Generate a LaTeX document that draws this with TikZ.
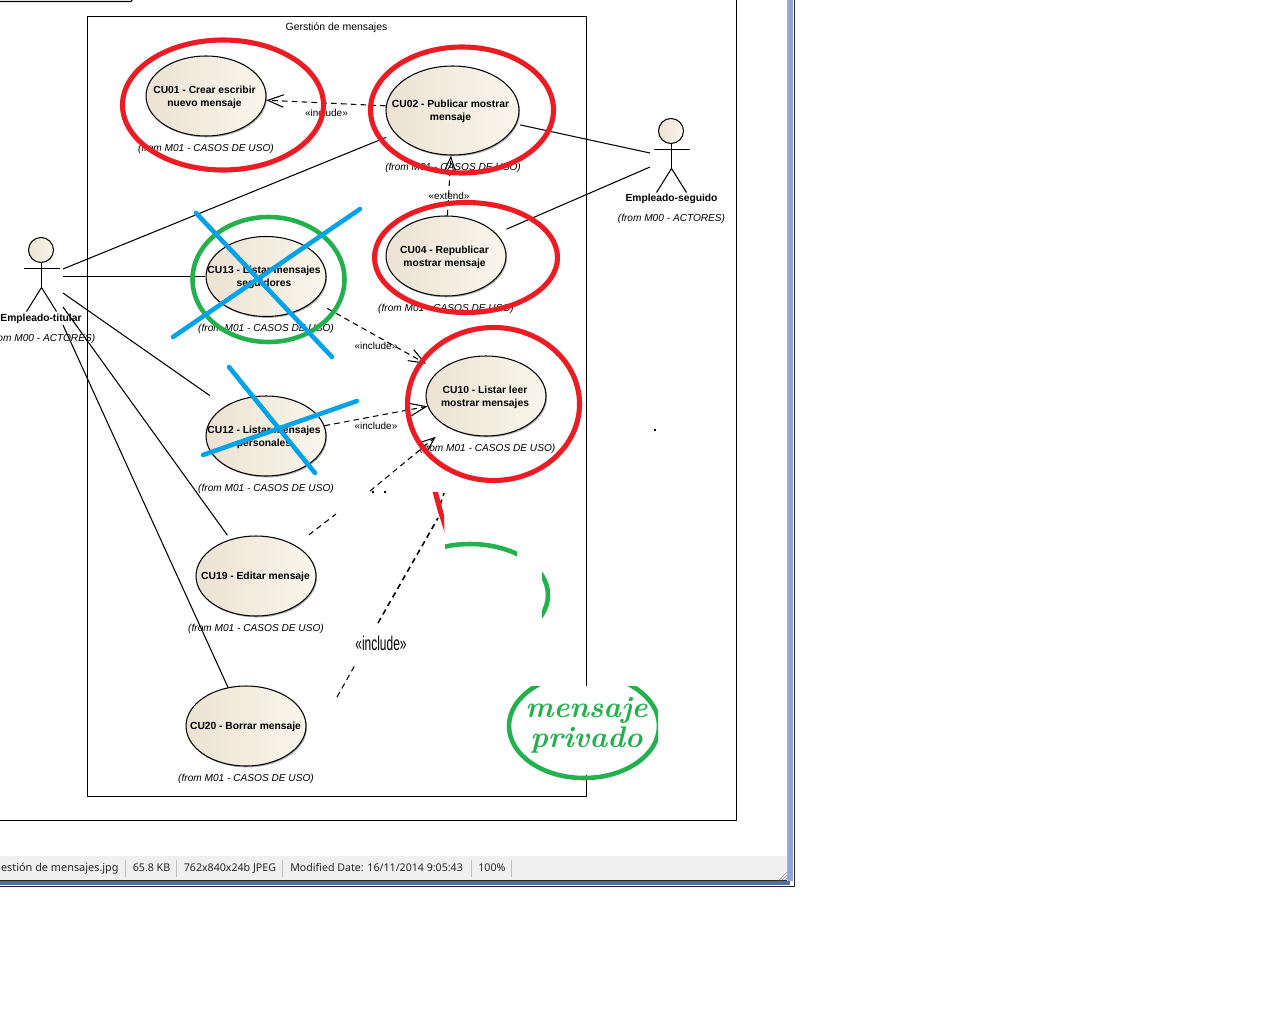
\documentclass[tikz,border=0pt]{standalone}
\usepackage{fontspec}
\setmainfont{Liberation Sans}
\newfontfamily\barfont{Noto Sans}
\newfontfamily\handfont{Latin Modern Roman}
\usetikzlibrary{arrows.meta,shapes.geometric,shadows}
\definecolor{markred}{HTML}{ED1C24}
\definecolor{markgreen}{HTML}{22B14C}
\definecolor{markblue}{HTML}{00A2E8}
\definecolor{ucleft}{HTML}{EBE2D3}
\definecolor{ucright}{HTML}{FBF6EC}
\definecolor{framefill}{HTML}{8FA6D2}
\definecolor{framedark}{HTML}{4F6FA8}
\tikzset{
  thinline/.style={line width=0.6pt},
  dashline/.style={thinline,dash pattern=on 3.2pt off 2.4pt},
  openhead/.style={-{Straight Barb[length=3.2mm,width=2.5mm,line width=0.6pt]}},
  usecase/.style={ellipse,draw,thinline,left color=ucleft,right color=ucright,minimum width=2.4cm,minimum height=1.6cm,inner sep=0pt,
    drop shadow={shadow xshift=0.6pt,shadow yshift=-0.8pt,fill=black,opacity=0.3}},
  ucname/.style={font=\fontsize{5.85}{7.37}\selectfont\bfseries,align=center,inner sep=0pt},
  fromlabel/.style={font=\fontsize{5.76}{7}\selectfont\itshape,inner sep=0pt},
  stereo/.style={font=\fontsize{5.67}{7}\selectfont,inner sep=0pt},
  barlabel/.style={font=\fontsize{6.05}{7}\selectfont\barfont,inner sep=0pt,text=black!85},
  actorhead/.style={circle,draw,thinline,left color=ucleft,right color=ucright,minimum size=0.5cm,inner sep=0pt},
  redring/.style={draw=markred,line width=2.9pt},
  greenring/.style={draw=markgreen,line width=2.6pt},
  bluecross/.style={draw=markblue,line width=2.6pt,line cap=round},
}
\begin{document}
\begin{tikzpicture}[x=0.02cm,y=-0.02cm]
  \useasboundingbox (0,0) rectangle (1280,1024);
  \fill[white] (0,0) rectangle (1280,1024);

  % viewer window
  \fill[black!6] (0,856) rectangle (787,880);
  \fill[framefill] (788,0) rectangle (793,881);
  \fill[framedark] (0,881) rectangle (790,885);
  \draw[black!30] (787.5,0) -- (787.5,880);
  \draw[black!85] (794.5,0) -- (794.5,886) -- (0,886);
  \draw[black!85,thinline] (0,880.5) -- (787,880.5);
  \foreach \x in {125.5,176.5,282.5,471.5,511.5} {
    \draw[black!25] (\x,860) -- (\x,877);
  }
  \node[barlabel,anchor=base east,font=\fontsize{6.2}{7}\selectfont\barfont] (barname) at (119,871) {estión de mensajes.jpg};
  \node[barlabel,anchor=base west] (barsize) at (132.5,871) {65.8 KB};
  \node[barlabel,anchor=base west] (bardims) at (183.5,871) {762x840x24b JPEG};
  \node[barlabel,anchor=base west] (bardate) at (290,871) {Modified Date: 16/11/2014 9:05:43};
  \node[barlabel,anchor=base west] (barzoom) at (478,871) {100\%};
  \foreach \i in {0,1,2} {
    \draw[black!35] (779+\i*3,880) -- (787,872+\i*3);
  }

  % picture edge and package
  \draw[thinline] (0,1.5) -- (131,1.5) -- (133,-1);
  \draw[thinline] (736.5,0) -- (736.5,820.5) -- (0,820.5);
  \draw[thinline] (586.5,686) -- (586.5,16.5) -- (87.5,16.5) -- (87.5,796.5) -- (586.5,796.5) -- (586.5,775);
  \node[stereo,font=\fontsize{5.95}{7}\selectfont] (pkgname) at (336.5,28) {Gerstión de mensajes};

  % use cases
  \node[usecase] (cu01) at (206,96) {};
  \node[usecase,minimum width=2.66cm,minimum height=1.78cm] (cu02) at (452.5,110.5) {};
  \node[usecase] (cu04) at (446,256) {};
  \node[usecase] (cu13) at (266,276.5) {};
  \node[usecase] (cu12) at (266,436) {};
  \node[usecase] (cu10) at (486,396) {};
  \node[usecase] (cu19) at (256,576) {};
  \node[usecase] (cu20) at (246,726) {};

  \node[ucname] (cu01name) at (204.5,97.5) {CU01 - Crear escribir\\nuevo mensaje};
  \node[ucname] (cu02name) at (450.5,111.5) {CU02 - Publicar mostrar\\mensaje};
  \node[ucname] (cu04name) at (444.5,257.5) {CU04 - Republicar\\mostrar mensaje};
  \node[ucname] (cu13name) at (264,277.5) {CU13 - Listar mensajes\\seguidores};
  \node[ucname] (cu12name) at (264,437.5) {CU12 - Listar mensajes\\personales};
  \node[ucname] (cu10name) at (485,397.5) {CU10 - Listar leer\\mostrar mensajes};
  \node[ucname] (cu19name) at (255.5,577) {CU19 - Editar mensaje};
  \node[ucname] (cu20name) at (245.5,727) {CU20 - Borrar mensaje};

  \node[fromlabel] (cu01from) at (206,149) {(from M01 - CASOS DE USO)};
  \node[fromlabel] (cu02from) at (453,168) {(from M01 - CASOS DE USO)};
  \node[fromlabel] (cu04from) at (446,309) {(from M01 - CASOS DE USO)};
  \node[fromlabel] (cu13from) at (266,329) {(from M01 - CASOS DE USO)};
  \node[fromlabel] (cu12from) at (266,489) {(from M01 - CASOS DE USO)};
  \node[fromlabel] (cu10from) at (487.5,449) {(from M01 - CASOS DE USO)};
  \node[fromlabel] (cu19from) at (256,629) {(from M01 - CASOS DE USO)};
  \node[fromlabel] (cu20from) at (246,779) {(from M01 - CASOS DE USO)};

  % actors
  \foreach \ax/\ay in {41.5/250.5,671.5/131.5} {
    \begin{scope}[shift={(\ax,\ay)}]
      \draw[thinline] (0,12) -- (0,37) (-18,18) -- (18,18);
      \draw[thinline] (-15,61) -- (0,37) -- (15,61);
    \end{scope}
  }
  \node[actorhead] (titular) at (41,250) {};
  \node[actorhead] (seguido) at (671,131) {};
  \node[ucname] (titularname) at (41,319) {Empleado-titular};
  \node[ucname] (seguidoname) at (671.5,199) {Empleado-seguido};
  \node[fromlabel,anchor=east] (titularfrom) at (95.5,339) {om M00 - ACTORES)};
  \node[fromlabel] (seguidofrom) at (671.5,219) {(from M00 - ACTORES)};

  % free ends beside the actors
  \coordinate (tita) at (63,269);
  \coordinate (titb) at (63,276.5);
  \coordinate (titc) at (63,293);
  \coordinate (titd) at (63,307);
  \coordinate (tite) at (63,325);
  \coordinate (sega) at (650,153);
  \coordinate (segb) at (650,167);

  \draw[thinline,shorten >=1.9mm] (tita) -- (cu02.202);
  \draw[thinline] (titb) -- (cu13.west);
  \draw[thinline,shorten >=3.7mm] (titc) -- (cu12.144);
  \draw[thinline,shorten >=1mm] (titd) -- (cu19.125);
  \draw[thinline] (tite) -- (cu20.115);
  \draw[thinline,shorten >=0.8mm] (sega) -- (cu02.348);
  \draw[thinline,shorten >=2.2mm] (segb) -- (cu04.24);

  % dependencies
  \draw[dashline,openhead] (cu02.176) -- (cu01.356);
  \draw[dashline,openhead] (cu04.88) -- (cu02.268);
  \draw[dashline,openhead,shorten <=3mm,shorten >=2.9mm] (cu13.333) -- (cu10.152);
  \draw[dashline,openhead] (cu12.10) -- (cu10.190);
  \coordinate (cutaend) at (336,514);
  \coordinate (cutastart) at (370,491);
  \draw[dashline,shorten <=3.4mm] (cu19.38) -- (cutaend);
  \draw[dashline,openhead,shorten >=3mm] (cutastart) -- (cu10.219);
  \coordinate (cutb) at (337,697);
  \coordinate (cutc) at (355,665);
  \coordinate (cutd) at (378,623);
  \coordinate (cute) at (438,518);
  \coordinate (cutf) at (440,505);
  \coordinate (cutg) at (444,493);
  \draw[dashline] (cutb) -- (cutc);
  \draw[dashline,line width=0.9pt] (cutd) -- (cute);
  \draw[dashline,line width=0.9pt] (cutf) -- (cutg);
  \node[stereo] (incb) at (326.5,113) {«include»};
  \node[stereo] (extb) at (449,196) {«extend»};
  \node[stereo] (incc) at (376,346) {«include»};
  \node[stereo] (incd) at (376,426) {«include»};
  \node[stereo] (ince) at (381,643) {\scalebox{1.2}[2]{«include»}};
  \foreach \x/\y in {372/491,384/491,654/429} {
    \fill (\x,\y) rectangle +(1.5,1.5);
  }

  % marks over the diagram
  \draw[redring] (223,105) ellipse (100.5 and 65);
  \draw[redring] (462,110) ellipse (91.5 and 63);
  \draw[redring] (466,257.5) ellipse (91.5 and 55);
  \draw[redring] (493.5,404) ellipse (86 and 76.5);
  \draw[greenring] (268.5,279.5) ellipse (76 and 62.5);
  \fill[markred] (432.5,492) -- (438,492) -- (444,515) -- (444.5,532) -- (438,512) -- cycle;
  \begin{scope}
    \clip (445,530) rectangle (517,560);
    \draw[greenring] (470,595) ellipse (79 and 51);
  \end{scope}
  \begin{scope}
    \clip (542,572) rectangle (555,618);
    \draw[greenring] (470,595) ellipse (78 and 51);
  \end{scope}
  \begin{scope}
    \clip (500,686) rectangle (658,790);
    \draw[greenring] (584,726) ellipse (75 and 52);
  \end{scope}
  \node[font=\fontsize{17}{17}\selectfont\handfont\bfseries\itshape,text=markgreen,align=center,inner sep=0pt] (privado) at (586.5,725) {mensaje\\privado};

  \draw[bluecross] (196,213) -- (332,357);
  \draw[bluecross] (360,209) -- (173,337);
  \draw[bluecross] (229,367) -- (315,473);
  \draw[bluecross] (357,401) -- (203,455);
\end{tikzpicture}
\end{document}
